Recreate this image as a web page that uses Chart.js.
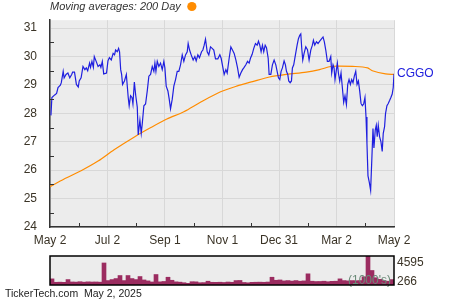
<!DOCTYPE html>
<html>
<head>
<meta charset="utf-8">
<script src="https://cdn.jsdelivr.net/npm/chart.js@4.4.1/dist/chart.umd.min.js"></script>
<style>
  html, body { margin: 0; padding: 0; background: #fff; }
  #wrap { position: relative; width: 450px; height: 300px; }
  #priceChart { position: absolute; left: 0; top: 0; }
  #volChart { position: absolute; left: 0; top: 250px; }
</style>
</head>
<body>
<div id="wrap">
  <canvas id="priceChart" width="450" height="250"></canvas>
  <canvas id="volChart" width="450" height="50"></canvas>
</div>
<script>
// x positions are calendar days counted from May 2, 2024
const tickDays = [0, 61, 122, 183, 243, 304, 365];
const tickLabels = ["May 2", "Jul 2", "Sep 1", "Nov 1", "Dec 31", "Mar 2", "May 2"];
const yTicks = [24, 25, 26, 27, 28, 29, 30, 31];

const symbol = "CGGO";

const priceDays = [
  1, 2, 5, 7, 8.5, 11, 12, 14, 15, 17, 19, 21, 23, 24, 26, 28, 30, 31, 33, 35,
  37, 38.5, 40, 42, 43, 44.5, 46, 47, 49, 51, 53, 54, 55.5, 57, 60, 61.5, 63, 65, 67, 68.5,
  69.6, 71.4, 72.8, 73.8, 75, 76, 77, 79, 81, 83, 84, 85.5, 87, 88, 89.5, 91, 92.6, 93.6, 95.4, 96.8,
  97.9, 99.6, 101.4, 103.2, 104.9, 106.7, 108.5, 110.2, 111.3, 112.4, 113.8, 115.5, 117.3, 119.1, 120.8, 121.9, 123.3, 125.1, 126.5, 127.9,
  129.7, 131.4, 133.2, 135, 136.7, 138.5, 140.3, 142, 143.8, 145.6, 146.6, 148.1, 149.8, 151.9, 153.7, 155.1, 156.9, 158.6, 160.8, 162.2,
  163.6, 165, 166.8, 168.5, 170.3, 172.1, 173.8, 175.6, 178.1, 180.2, 181.6, 183.7, 184.8, 186.6, 188, 190.1, 191.9, 193.6, 195.4, 197.2,
  199, 200.7, 202.5, 204.3, 206, 207.8, 209.6, 211.3, 212.7, 214.5, 216.2, 218, 219.8, 221.2, 222.6, 224, 225.4, 226.8, 228.3, 229.7,
  231.5, 232.5, 234.3, 236, 237.8, 239.6, 241, 242.4, 243.8, 245.2, 246.6, 248.4, 249.8, 250.9, 252.3, 253.3, 254.8, 256.2, 257.2, 258.6,
  260.4, 262.2, 263.6, 265, 266.1, 267.1, 268.2, 269.6, 271.4, 273.2, 274.9, 276.7, 278.4, 279.5, 280.9, 282.7, 284.4, 286.2, 288.3, 289.7,
  291.1, 292.6, 294.3, 296.1, 297.9, 298.9, 300.3, 301.4, 302.4, 303.9, 304.9, 306, 307.4, 308.8, 310.2, 311.6, 313, 314.5, 315.9, 317.3,
  318.7, 320.1, 321.5, 322.9, 324.4, 325.8, 327.2, 328.6, 330, 331.4, 332.8, 334.2, 335.3, 336.3, 337.4, 338.8, 340.2, 341.6, 342.7, 343.7,
  345.1, 346.2, 347.2, 348.3, 349.7, 351.1, 352.5, 353.6, 355, 356, 357.5, 358.9, 360.3, 361.7, 363.1, 364.2, 365
];
const priceValues = [
  27.93, 28.56, 28.65, 28.70, 28.91, 28.99, 29.08, 29.48, 29.25, 29.37, 29.42, 29.25, 29.37, 29.45, 29.45, 29.02, 28.93, 29.14, 29.25, 29.65,
  29.54, 29.60, 29.50, 29.77, 29.62, 29.83, 29.62, 30.00, 29.83, 29.65, 29.71, 29.62, 29.83, 29.39, 29.42, 29.85, 29.96, 29.88, 30.11, 30.06,
  30.23, 30.17, 30.29, 30.17, 29.54, 29.37, 29.02, 29.14, 29.37, 28.56, 28.27, 28.62, 28.56, 28.33, 29.10, 28.62, 28.22, 27.24, 27.76, 27.30,
  27.64, 28.27, 28.33, 28.79, 29.31, 29.37, 29.65, 29.48, 29.77, 29.48, 29.83, 29.65, 29.77, 29.54, 29.83, 29.60, 28.96, 28.79, 28.50, 28.16,
  28.50, 28.96, 29.19, 29.48, 29.48, 29.71, 30.06, 29.83, 30.06, 30.17, 30.46, 30.23, 30.06, 29.88, 30.00, 29.85, 30.06, 29.96, 30.17, 30.23,
  30.40, 30.61, 30.17, 30.06, 30.34, 30.29, 30.23, 29.92, 29.92, 30.06, 29.94, 29.57, 29.37, 29.54, 29.42, 29.94, 30.34, 30.23, 30.11, 29.88,
  29.60, 29.27, 29.42, 29.54, 29.62, 29.71, 29.83, 29.77, 29.94, 30.08, 30.29, 30.46, 30.40, 30.54, 30.40, 30.17, 30.40, 30.17, 30.40, 30.31,
  29.94, 29.37, 29.37, 29.71, 29.88, 29.71, 29.48, 29.25, 29.19, 29.48, 29.60, 29.85, 29.71, 29.48, 29.37, 29.14, 29.08, 29.14, 29.60, 29.71,
  30.06, 30.40, 30.63, 30.75, 30.80, 30.29, 29.88, 30.11, 30.34, 30.24, 29.88, 30.23, 30.40, 30.57, 30.40, 30.52, 30.46, 30.54, 30.63, 30.69,
  30.52, 30.23, 29.83, 29.83, 30.00, 29.42, 29.71, 29.60, 29.19, 29.54, 29.77, 29.42, 29.14, 29.42, 28.91, 28.39, 28.62, 28.31, 29.02, 29.19,
  29.02, 29.19, 29.08, 29.31, 29.48, 29.02, 29.14, 28.79, 28.35, 28.27, 28.33, 28.56, 27.87, 26.95, 25.80, 25.57, 25.29, 26.49, 27.47, 26.78,
  27.41, 27.58, 27.18, 27.58, 27.18, 27.01, 26.66, 27.30, 27.53, 27.99, 28.27, 28.35, 28.45, 28.56, 28.68, 28.91, 29.39
];

const maDays = [0, 15, 33, 51, 68, 90, 107, 124, 142, 160, 181, 198, 215, 233, 251, 272, 286, 298, 307, 324, 337, 342, 356, 365];
const maValues = [25.42, 25.69, 25.98, 26.32, 26.72, 27.18, 27.50, 27.80, 28.06, 28.40, 28.76, 28.96, 29.12, 29.28, 29.37, 29.45, 29.54, 29.65, 29.66, 29.65, 29.60, 29.50, 29.39, 29.37];

// volume in thousands, roughly one bar per 4 days
const volume = [
  970, 430, 450, 420, 860, 480, 460, 520, 450, 500, 470, 480, 450, 3490, 700, 860, 1020, 1500, 700, 1500,
  1020, 860, 1340, 800, 650, 480, 1660, 500, 560, 1230, 750, 500, 450, 360, 266, 520, 500, 360, 380, 600,
  430, 420, 440, 400, 470, 430, 700, 720, 400, 350, 420, 440, 450, 430, 470, 1230, 750, 800, 650, 700,
  620, 700, 600, 650, 1770, 600, 550, 560, 600, 520, 580, 600, 970, 700, 650, 700, 680, 700, 1300, 4595,
  2300, 1150, 900, 700, 600, 860
];
const volTicks = [266, 4595];

Chart.defaults.font.family = '"Liberation Sans", Arial, sans-serif';
Chart.defaults.font.size = 12;
Chart.defaults.color = '#3a3326';

const plotBackground = {
  id: 'plotBackground',
  beforeDraw(chart) {
    const a = chart.chartArea, ctx = chart.ctx;
    ctx.save();
    ctx.fillStyle = '#ececec';
    ctx.fillRect(a.left, a.top, a.right - a.left, a.bottom - a.top);
    ctx.restore();
  }
};

const priceDecor = {
  id: 'priceDecor',
  afterDraw(chart) {
    const ctx = chart.ctx, a = chart.chartArea;
    const xs = chart.scales.x, ys = chart.scales.y;
    ctx.save();
    // minor ticks inside the plot
    ctx.strokeStyle = '#333';
    ctx.lineWidth = 1;
    ctx.beginPath();
    for (let i = 0; i < yTicks.length - 1; i++) {
      const y = Math.round(ys.getPixelForValue((yTicks[i] + yTicks[i + 1]) / 2)) + 0.5;
      ctx.moveTo(a.left, y); ctx.lineTo(a.left + 4, y);
    }
    for (let i = 0; i < tickDays.length - 1; i++) {
      const x = Math.round(xs.getPixelForValue((tickDays[i] + tickDays[i + 1]) / 2)) + 0.5;
      ctx.moveTo(x, a.bottom); ctx.lineTo(x, a.bottom - 4);
    }
    ctx.stroke();

    // legend line at the top
    ctx.font = 'italic 11px "Liberation Sans", Arial, sans-serif';
    ctx.fillStyle = '#333';
    ctx.textBaseline = 'middle';
    ctx.textAlign = 'left';
    const txt = 'Moving averages: 200 Day';
    ctx.fillText(txt, 50, 7);
    const w = ctx.measureText(txt).width;
    ctx.fillStyle = '#ff8c00';
    ctx.beginPath();
    ctx.arc(50 + w + 11, 6.5, 4.6, 0, Math.PI * 2);
    ctx.fill();

    // symbol next to the last price
    ctx.font = '12px "Liberation Sans", Arial, sans-serif';
    ctx.fillStyle = '#2020dd';
    const lastY = ys.getPixelForValue(priceValues[priceValues.length - 1]);
    ctx.fillText(symbol, a.right + 3, lastY);
    ctx.restore();
  }
};

new Chart(document.getElementById('priceChart'), {
  type: 'line',
  data: {
    datasets: [
      {
        label: symbol,
        data: priceDays.map((d, i) => ({ x: d, y: priceValues[i] })),
        borderColor: '#1f1fdf',
        borderWidth: 1.2,
        pointRadius: 0,
        tension: 0
      },
      {
        label: '200 Day',
        data: maDays.map((d, i) => ({ x: d, y: maValues[i] })),
        borderColor: '#ff8c00',
        borderWidth: 1.2,
        pointRadius: 0,
        tension: 0.3
      }
    ]
  },
  options: {
    responsive: false,
    animation: false,
    devicePixelRatio: 1,
    layout: { padding: { top: 16, right: 56, left: 0, bottom: 0 } },
    plugins: { legend: { display: false }, tooltip: { enabled: false } },
    scales: {
      x: {
        type: 'linear',
        min: 0,
        max: 365,
        afterBuildTicks: s => { s.ticks = tickDays.map(v => ({ value: v })); },
        afterFit: s => { s.height = 23; },
        ticks: {
          padding: 6,
          maxRotation: 0,
          autoSkip: false,
          callback: (v, i) => tickLabels[i]
        },
        grid: { color: '#d8d8d8', drawTicks: false },
        border: { color: '#333', width: 1.5 }
      },
      y: {
        min: 24,
        max: 31.28,
        afterBuildTicks: s => { s.ticks = yTicks.map(v => ({ value: v })); },
        afterFit: s => { s.width = 50; },
        ticks: { padding: 13 },
        grid: { color: '#d8d8d8', drawTicks: false },
        border: { color: '#333', width: 1.5 }
      }
    }
  },
  plugins: [plotBackground, priceDecor]
});

const volDecor = {
  id: 'volDecor',
  afterDraw(chart) {
    const ctx = chart.ctx, a = chart.chartArea, ys = chart.scales.y;
    ctx.save();
    ctx.font = '12px "Liberation Sans", Arial, sans-serif';
    ctx.textBaseline = 'middle';
    ctx.textAlign = 'left';
    ctx.fillStyle = '#6a8a78';
    ctx.fillText("(1000's)", 348, 31);
    ctx.strokeStyle = '#000';
    ctx.lineWidth = 1.5;
    ctx.strokeRect(a.left, a.top, a.right - a.left, a.bottom - a.top);
    // max / min volume labels, kept inside the box height
    ctx.fillStyle = '#3a3326';
    volTicks.forEach(v => {
      const y = Math.min(Math.max(ys.getPixelForValue(v), a.top + 7), a.bottom - 3);
      ctx.fillText(String(v), a.right + 3, y);
    });
    ctx.font = '10.5px "Liberation Sans", Arial, sans-serif';
    ctx.fillStyle = '#222';
    ctx.fillText('TickerTech.com  May 2, 2025', 5, 44);
    ctx.restore();
  }
};

new Chart(document.getElementById('volChart'), {
  type: 'bar',
  data: {
    labels: volume.map((v, i) => i),
    datasets: [{
      data: volume,
      backgroundColor: '#9b2c60',
      barPercentage: 1,
      categoryPercentage: 1
    }]
  },
  options: {
    responsive: false,
    animation: false,
    devicePixelRatio: 1,
    layout: { padding: { top: 6, left: 50, bottom: 15, right: 0 } },
    plugins: { legend: { display: false }, tooltip: { enabled: false } },
    scales: {
      x: { display: false },
      y: {
        position: 'right',
        min: 0,
        max: 4595,
        afterFit: s => { s.width = 56; },
        ticks: { display: false },
        grid: { display: false, drawTicks: false },
        border: { display: false }
      }
    }
  },
  plugins: [plotBackground, volDecor]
});
</script>
</body>
</html>
